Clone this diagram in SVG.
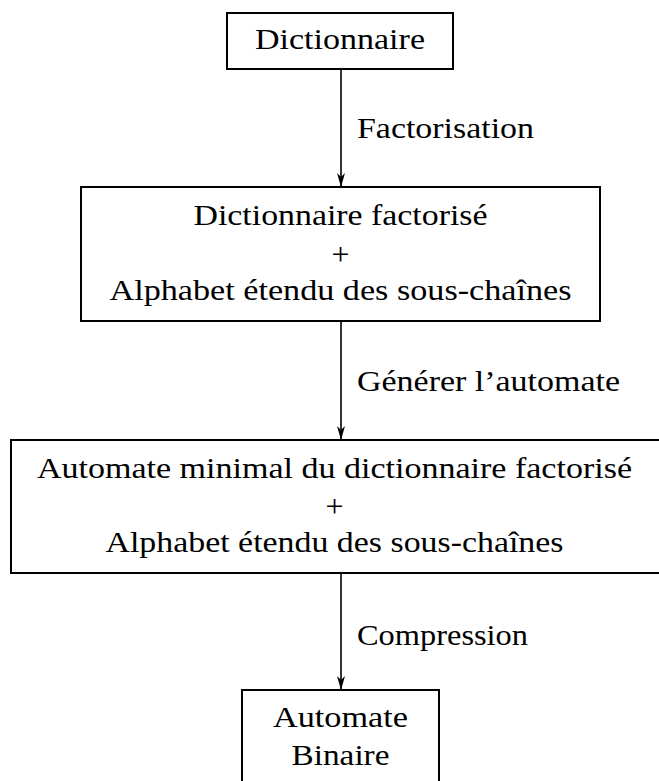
<svg xmlns="http://www.w3.org/2000/svg" width="659" height="781" viewBox="0 0 659 781">
<style>
.box{fill:#fff;stroke:#000;stroke-width:2}
.t{font-family:'Liberation Serif','Times New Roman','DejaVu Serif',serif;font-size:30px;fill:#000}
.c{text-anchor:middle}
.plus{font-family:'Liberation Serif','DejaVu Serif',serif;font-size:32px;fill:#000;text-anchor:middle}
.edge{stroke:#000;stroke-width:1.6;fill:none}
</style>
<defs>
<marker id="arr" markerWidth="14" markerHeight="8" refX="14" refY="4" orient="auto" markerUnits="userSpaceOnUse" viewBox="0 0 14 8">
<path d="M0,0 L14,4 L0,8 L4,4 Z" fill="#000"/>
</marker>
</defs>
<g id="connectors">
<line class="edge" x1="341" y1="69" x2="341" y2="187" marker-end="url(#arr)"/>
<line class="edge" x1="341" y1="321" x2="341" y2="440" marker-end="url(#arr)"/>
<line class="edge" x1="341" y1="573" x2="341" y2="690" marker-end="url(#arr)"/>
<text class="t" x="357" y="138" textLength="177" lengthAdjust="spacingAndGlyphs">Factorisation</text>
<text class="t" x="357" y="391" textLength="263" lengthAdjust="spacingAndGlyphs">Générer l’automate</text>
<text class="t" x="357" y="645" textLength="171" lengthAdjust="spacingAndGlyphs">Compression</text>
</g>
<g id="n1">
<rect class="box" x="227" y="13" width="226" height="56"/>
<text class="t c" x="340" y="49" textLength="170" lengthAdjust="spacingAndGlyphs">Dictionnaire</text>
</g>
<g id="n2">
<rect class="box" x="81" y="187" width="519" height="134"/>
<text class="t c" x="340.5" y="225" textLength="294" lengthAdjust="spacingAndGlyphs">Dictionnaire factorisé</text>
<text class="plus" x="340.5" y="265">+</text>
<text class="t c" x="340.5" y="300" textLength="462" lengthAdjust="spacingAndGlyphs">Alphabet étendu des sous-chaînes</text>
</g>
<g id="n3">
<rect class="box" x="11" y="440" width="652" height="133"/>
<text class="t c" x="334.5" y="478" textLength="595" lengthAdjust="spacingAndGlyphs">Automate minimal du dictionnaire factorisé</text>
<text class="plus" x="334.5" y="517">+</text>
<text class="t c" x="334.5" y="552" textLength="458" lengthAdjust="spacingAndGlyphs">Alphabet étendu des sous-chaînes</text>
</g>
<g id="n4">
<rect class="box" x="242" y="690" width="197" height="100"/>
<text class="t c" x="340.5" y="727" textLength="135" lengthAdjust="spacingAndGlyphs">Automate</text>
<text class="t c" x="340.5" y="765" textLength="98" lengthAdjust="spacingAndGlyphs">Binaire</text>
</g>
</svg>
